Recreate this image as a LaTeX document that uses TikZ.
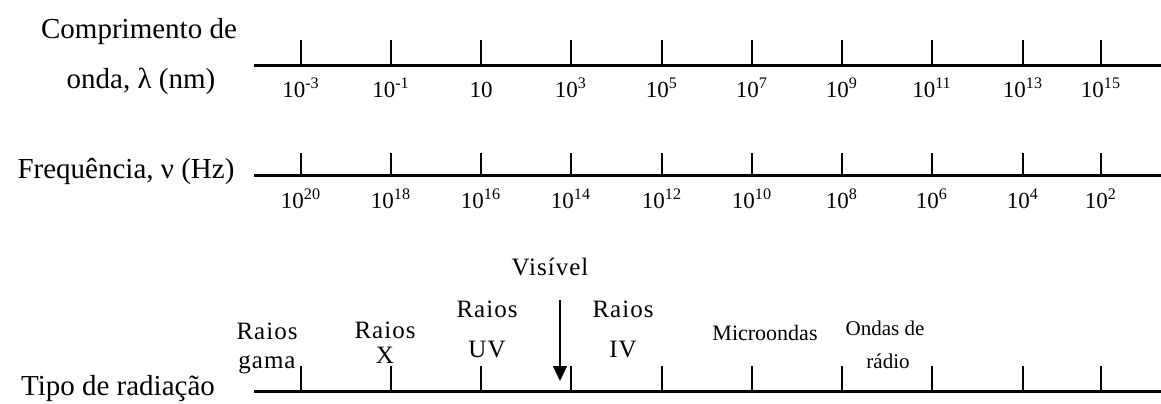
\documentclass[tikz,border=0pt]{standalone}
\usepackage{fontspec}
\setmainfont{Liberation Serif}
\usetikzlibrary{arrows.meta}
\begin{document}
\begin{tikzpicture}[x=0.5pt,y=-0.5pt,
  axisline/.style={line width=1.5pt},
  thintick/.style={line width=0.55pt},
  thicktick/.style={line width=1.3pt},
  mainlbl/.style={font=\fontsize{14.5}{16}\selectfont, anchor=base, inner sep=0pt},
  ticklbl/.style={font=\fontsize{11.5}{13}\selectfont, anchor=base, inner sep=0pt},
  typelbl/.style={font=\fontsize{12.5}{14}\selectfont\addfontfeature{LetterSpace=4}, anchor=base, inner sep=0pt},
  smalllbl/.style={font=\fontsize{11}{13}\selectfont, anchor=base, inner sep=0pt},
  tinylbl/.style={font=\fontsize{10.5}{12}\selectfont, anchor=base, inner sep=0pt}]
\useasboundingbox (0,0) rectangle (1161,403);

% left labels
\node[mainlbl] (t1) at (139,38) {Comprimento de};
\node[mainlbl] (t2) at (141,88) {onda, λ (nm)};
\node[mainlbl] (t3) at (126,178) {Frequência, ν (Hz)};
\node[mainlbl] (t4) at (118,395) {Tipo de radiação};

% axis lines
\coordinate (a1s) at (254,65);  \coordinate (a1e) at (1161,65);
\coordinate (a2s) at (254,175); \coordinate (a2e) at (1161,175);
\coordinate (a3s) at (254,391); \coordinate (a3e) at (1161,391);
\draw[axisline] (a1s) -- (a1e);
\draw[axisline] (a2s) -- (a2e);
\draw[axisline] (a3s) -- (a3e);

% ticks
\foreach \x/\s [count=\i] in {301/thintick,391/thicktick,481/thintick,571/thicktick,662/thintick,752/thicktick,842/thintick,932/thicktick,1023/thintick,1101/thintick}{
  \coordinate (p1t\i) at (\x,40);  \coordinate (p1b\i) at (\x,65);
  \coordinate (p2t\i) at (\x,153); \coordinate (p2b\i) at (\x,175);
  \coordinate (p3t\i) at (\x,366); \coordinate (p3b\i) at (\x,391);
  \draw[\s] (p1t\i) -- (p1b\i);
  \draw[\s] (p2t\i) -- (p2b\i);
  \draw[\s] (p3t\i) -- (p3b\i);
}

% wavelength labels
\foreach \x/\e [count=\i] in {301/-3,391/-1,571/3,662/5,752/7,842/9,932/11,1023/13,1101/15}{
  \node[ticklbl] (w\i) at (\x,97) {10\textsuperscript{\e}};
}
\node[ticklbl] (w10) at (481,97) {10};

% frequency labels
\foreach \x/\e [count=\i] in {301/20,391/18,481/16,571/14,662/12,752/10,842/8,932/6,1023/4,1101/2}{
  \node[ticklbl] (f\i) at (\x,208) {10\textsuperscript{\e}};
}

% radiation types
\node[typelbl] (g1) at (267,339) {Raios};
\node[typelbl] (g2) at (267,368) {gama};
\node[typelbl] (x1) at (385,338) {Raios};
\node[typelbl] (x2) at (385,363) {X};
\node[typelbl] (u1) at (487,317) {Raios};
\node[typelbl] (u2) at (487,357) {UV};
\node[typelbl] (vis) at (550,275) {Visível};
\node[typelbl] (i1) at (623,317) {Raios};
\node[typelbl] (i2) at (623,357) {IV};
\node[smalllbl] (mic) at (765,340) {Microondas};
\node[tinylbl] (o1) at (885,335) {Ondas de};
\node[tinylbl] (o2) at (888,368) {rádio};

% visible arrow
\coordinate (vs) at (560,300);
\coordinate (ve) at (560,381);
\draw[line width=0.6pt,-{Triangle[length=7.5pt,width=7pt]}] (vs) -- (ve);
\end{tikzpicture}
\end{document}
